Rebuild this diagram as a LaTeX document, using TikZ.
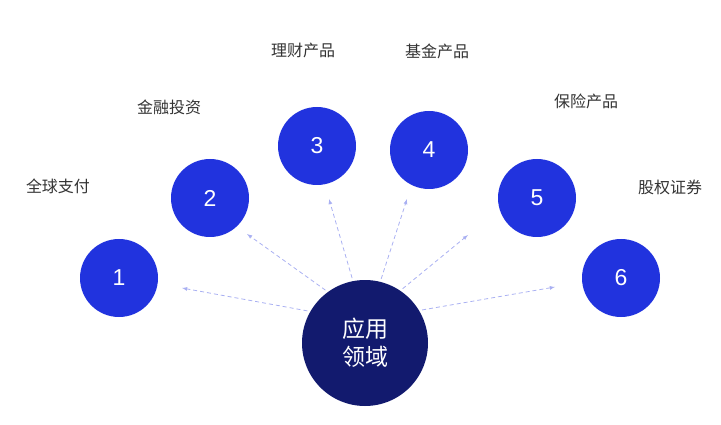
\documentclass[tikz,border=0pt]{standalone}
\usepackage{fontspec}
\setmainfont{Noto Sans CJK SC}
\newfontfamily\digitfont{Liberation Sans}
\definecolor{numblue}{HTML}{2133DE}
\definecolor{navy}{HTML}{121A6E}
\definecolor{linkblue}{HTML}{A9B0F2}
\definecolor{labelgray}{HTML}{333333}
\tikzset{
  numball/.style={circle,fill=numblue,minimum size=78pt,inner sep=0pt,text=white,font=\digitfont\fontsize{23}{26}\selectfont},
  hubball/.style={circle,fill=navy,minimum size=126pt,inner sep=0pt,text=white,align=center,font=\fontsize{23}{28}\selectfont},
  areatext/.style={text=labelgray,font=\fontsize{16}{18}\selectfont},
  link/.style={draw=linkblue,dash pattern=on 4pt off 3pt,-latex,line width=0.8pt}
}
\begin{document}
\begin{tikzpicture}[x=1pt,y=-1pt]
\useasboundingbox (0,0) rectangle (721,425);
% hub
\node[hubball] (app) at (365,343) {应用\\领域};
% numbered balls
\node[numball] (n1) at (119,278) {1};
\node[numball] (n2) at (210,198) {2};
\node[numball] (n3) at (317,146) {3};
\node[numball] (n4) at (429,150) {4};
\node[numball] (n5) at (537,198) {5};
\node[numball] (n6) at (621,278) {6};
% labels
\node[areatext] (t1) at (58,186) {全球支付};
\node[areatext] (t2) at (169,107) {金融投资};
\node[areatext] (t3) at (303,50) {理财产品};
\node[areatext] (t4) at (437,51) {基金产品};
\node[areatext] (t5) at (586,101) {保险产品};
\node[areatext] (t6) at (670,187) {股权证券};
% arrow tips
\coordinate (e1) at (182,288);
\coordinate (e2) at (247,234);
\coordinate (e3) at (329,199);
\coordinate (e4) at (407,199);
\coordinate (e5) at (468,235);
\coordinate (e6) at (555,287);
\foreach \i/\a in {1/150,2/126,3/101,4/76,5/56,6/31}
  \draw[link,shorten <=3pt] (app.\a) -- (e\i);
\end{tikzpicture}
\end{document}
